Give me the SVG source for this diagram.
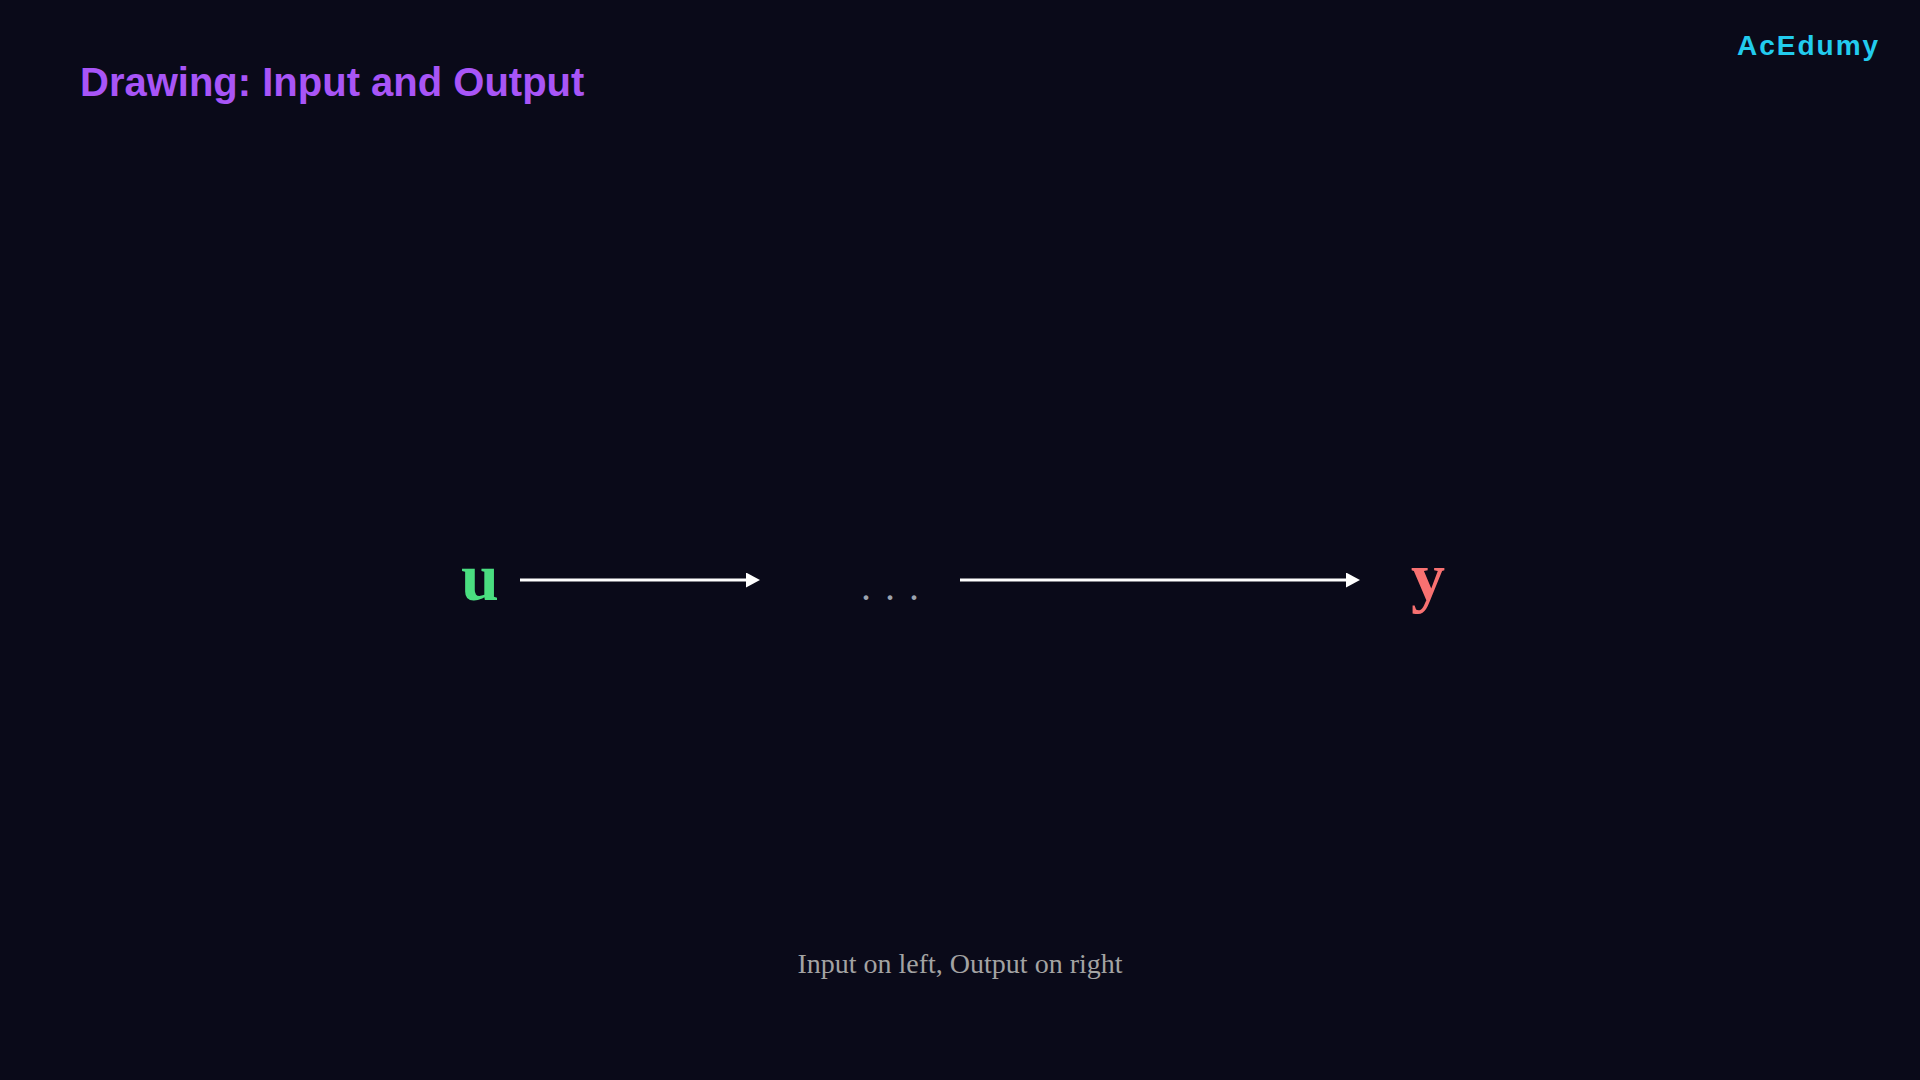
<svg xmlns="http://www.w3.org/2000/svg" width="1920" height="1080" viewBox="0 0 1920 1080">
  <style>
    .title { font-family: "Liberation Sans", Arial, sans-serif; font-weight: bold; font-size: 40px; fill: #a855f7; }
    .brand { font-family: "Liberation Sans", Arial, sans-serif; font-weight: bold; font-size: 28px; fill: #22ccee; letter-spacing: 2px; }
    .var { font-family: "Liberation Serif", "Times New Roman", serif; font-weight: bold; font-size: 68px; text-anchor: middle; }
    .dots { font-family: "Liberation Serif", "Times New Roman", serif; font-size: 40px; fill: #9ca3af; letter-spacing: 14px; }
    .caption { font-family: "Liberation Serif", "Times New Roman", serif; font-size: 28px; fill: #a3a3a3; text-anchor: middle; }
    .conn { stroke: #ffffff; stroke-width: 3; fill: none; }
  </style>
  <defs>
    <marker id="arrow" markerUnits="userSpaceOnUse" markerWidth="14" markerHeight="15" refX="4" refY="7.5" orient="auto" viewBox="0 0 14 15">
      <path d="M0,0 L14,7.5 L0,15 Z" fill="#ffffff"/>
    </marker>
  </defs>
  <rect x="0" y="0" width="1920" height="1080" fill="#0a0a19"/>
  <text class="title" x="80" y="96">Drawing: Input and Output</text>
  <text class="brand" x="1737" y="55">AcEdumy</text>
  <g id="node-u">
    <text class="var" x="480" y="600" fill="#4ade80">u</text>
  </g>
  <g id="node-dots">
    <text class="dots" x="861" y="600">...</text>
  </g>
  <g id="node-y">
    <text class="var" x="1428" y="600" fill="#f87171">y</text>
  </g>
  <g id="connectors">
    <line class="conn" x1="520" y1="580" x2="750" y2="580" marker-end="url(#arrow)"/>
    <line class="conn" x1="960" y1="580" x2="1350" y2="580" marker-end="url(#arrow)"/>
  </g>
  <text class="caption" x="960" y="973">Input on left, Output on right</text>
</svg>
